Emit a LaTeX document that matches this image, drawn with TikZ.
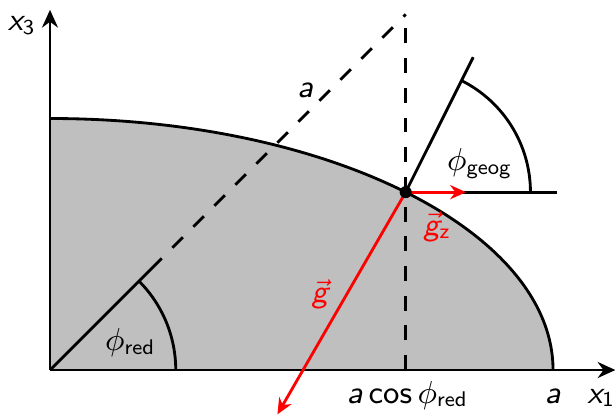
\documentclass[tikz,border=0pt]{standalone}
\usepackage{amsmath}
\usepackage{tikz}
\usetikzlibrary{arrows.meta,calc,positioning}
\DeclareMathAlphabet{\mathsfit}{OT1}{cmss}{m}{sl}
\newcommand{\sfv}[1]{\mathsfit{#1}}

\begin{document}
\begin{tikzpicture}[
    axis/.style={-{Stealth[length=5pt, width=4.5pt]}, thick},
    guide/.style={thick, dash pattern=on 4.2pt off 4.2pt},
    vec/.style={-{Stealth[length=4.5pt, width=4pt]}, thick, red},
    lbl/.style={font=\fontsize{9}{11}\selectfont\sffamily, anchor=base, inner sep=0pt},
    redlbl/.style={lbl, text=red},
  ]
    \useasboundingbox (-0.497,-0.457) rectangle (5.616,3.678);
    % ellipse quadrant
    \fill[black!25] (0,0) -- (5,0) arc[start angle=0, end angle=90, x radius=5, y radius=2.5] -- cycle;
    \draw[thick] (5,0) arc[start angle=0, end angle=90, x radius=5, y radius=2.5];
    % axes
    \coordinate (O) at (0,0);
    \coordinate (A) at (5,0);
    \coordinate (P) at ({5*cos(45)},{2.5*sin(45)});
    \draw[axis] (O) -- (5.62,0) coordinate (x1end);
    \draw[axis] (O) -- (0,3.58) coordinate (x3end);
    \node[lbl] (x1) at (5.48,-0.33) {$\sfv{x}_{\mathsf{1}}$};
    \node[lbl] (x3) at (-0.28,3.37) {$\sfv{x}_{\mathsf{3}}$};
    % reduced latitude
    \draw[thick] (O) -- (45:1.57) coordinate (redtip);
    \draw[guide] (redtip) ++(45:0.15) -- (45:5) coordinate (circtip);
    \draw[thick] (1.25,0) arc[start angle=0, end angle=45, radius=1.25];
    \node[lbl] (phired) at (0.80,0.19) {$\phi_{\text{red}}$};
    \node[lbl] (alen) at (2.54,2.71) {$\sfv{a}$};
    \coordinate (foot) at (P |- O);
    \draw[guide] (foot) -- (P |- circtip);
    \node[lbl] (acos) at ($(foot)+(0.02,-0.33)$) {$\sfv{a}\,\mathsf{cos}\,\phi_{\text{red}}$};
    \node[lbl] (aval) at ($(A)+(0,-0.33)$) {$\sfv{a}$};
    % geographic latitude
    \draw[thick] (P) -- ++(63.43:1.5) coordinate (normtip);
    \draw[thick] (P) -- ++(1.5,0) coordinate (horztip);
    \draw[thick] ($(P)+(1.24,0)$) arc[start angle=0, end angle=63.43, radius=1.24];
    \node[lbl] (phigeog) at (4.27,1.98) {$\phi_{\text{geog}}$};
    % gravity
    \draw[vec] (P) -- ++(240:2.55) coordinate (gtip);
    \draw[vec] (P) -- ++(0.6,0) coordinate (gztip);
    \node[redlbl] (g) at (2.70,0.67) {$\vec{\sfv{g}}$};
    \node[redlbl] (gz) at (3.85,1.34) {$\vec{\sfv{g}}_{\text{z}}$};
    \fill (P) circle (0.06);
\end{tikzpicture}
\end{document}
